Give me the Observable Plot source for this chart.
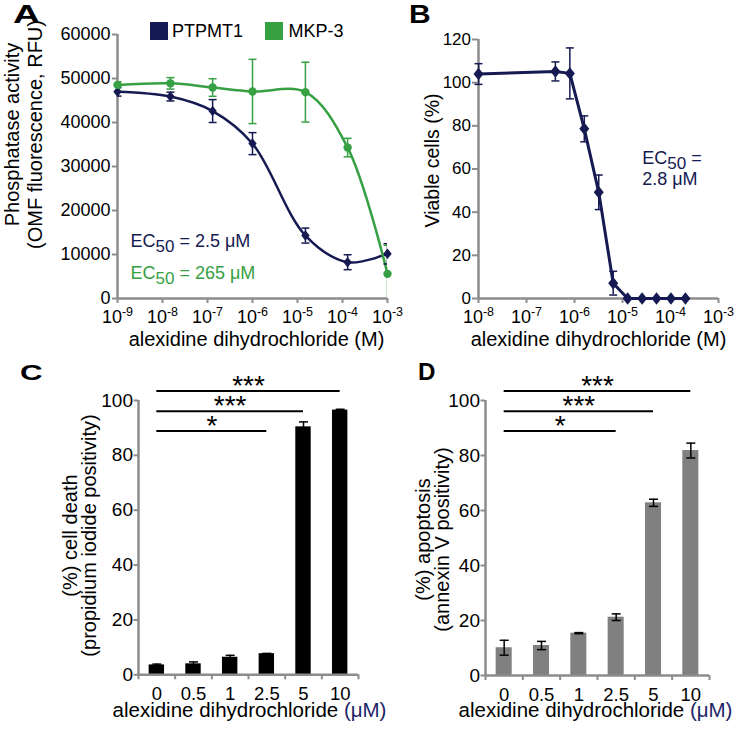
<!DOCTYPE html>
<html>
<head>
<meta charset="utf-8">
<script src="https://cdn.jsdelivr.net/npm/d3@7"></script>
<script src="https://cdn.jsdelivr.net/npm/@observablehq/plot@0.6"></script>
<style>
  html, body { margin: 0; padding: 0; background: #fff; }
  #fig { position: relative; width: 747px; height: 730px; overflow: hidden; font-family: "Liberation Sans", Arial, Helvetica, sans-serif; }
  #fig svg { position: absolute; left: 0; top: 0; overflow: visible; background: transparent; }
  .letter { position: absolute; font-weight: bold; line-height: 1; transform-origin: left top; color: #000; }
  .sw { position: absolute; width: 18px; height: 18px; }
  .lt { position: absolute; font-size: 18px; line-height: 18px; color: #000; white-space: nowrap; }
</style>
</head>
<body>
<div id="fig"></div>
<script>
// ---------- Panel A data: phosphatase activity ----------
const seriesA = ["PTPMT1", "MKP-3"];
const concA = [1e-9, 1.5e-8, 1.3e-7, 1e-6, 1.5e-5, 1.3e-4, 1e-3];
const ptpmt1 = [47000, 45900, 42600, 35200, 14300, 8250, 10150];
const ptpmt1Err = [1000, 1000, 2600, 2500, 1700, 1700, 2300];
const mkp3 = [48550, 48900, 47950, 47050, 46900, 34300, 5600];
const mkp3Err = [700, 1300, 2000, 7300, 6800, 2100, 6500];
const ticksAy = [0, 10000, 20000, 30000, 40000, 50000, 60000];
const ticksAx = [1e-9, 1e-8, 1e-7, 1e-6, 1e-5, 1e-4, 1e-3];

// ---------- Panel B data: viable cells ----------
const concB = [1e-8, 4e-7, 8e-7, 1.6e-6, 3.2e-6, 6.4e-6, 1.28e-5, 2.56e-5, 5.12e-5, 1.024e-4, 2.048e-4];
const viable = [104, 105.2, 104.3, 78.6, 49.2, 7.1, 0, 0, 0, 0, 0];
const viableErr = [4.8, 4.4, 11.8, 6, 8, 5.5, 0, 0, 0, 0, 0];
const ticksBy = [0, 20, 40, 60, 80, 100, 120];
const ticksBx = [1e-8, 1e-7, 1e-6, 1e-5, 1e-4, 1e-3];

// ---------- Panels C, D data ----------
const doses = ["0", "0.5", "1", "2.5", "5", "10"];
const cellDeath = [3.6, 4.0, 6.4, 7.7, 90.4, 96.5];
const cellDeathErr = [0.3, 0.7, 0.7, 0.1, 1.8, 0.3];
const apoptosis = [10.1, 10.9, 15.4, 21.2, 62.8, 81.8];
const apoptosisErr = [2.7, 1.5, 0.2, 1.2, 1.3, 2.7];
const ticksCD = [0, 20, 40, 60, 80, 100];
const sigFrom = ["0", "0", "0"];
const sigTo = ["2.5", "5", "10"];
const sigLabels = ["*", "***", "***"];
const sigLevels = [88.9, 96.1, 103.5];

// ---------- style ----------
const W = 747, H = 730;
const font = '"Liberation Sans", Arial, Helvetica, sans-serif';
const navy = "#161a52";
const green = "#36a043";
const axisGray = "#8c8c8c";
const barGray = "#808080";

const capSymbol = {draw(ctx, size) { const r = Math.sqrt(size / Math.PI); ctx.moveTo(-r, 0); ctx.lineTo(r, 0); }};
const diamondSymbol = {draw(ctx, size) { const r = Math.sqrt(size / Math.PI), h = r * 1.25; ctx.moveTo(0, -h); ctx.lineTo(r, 0); ctx.lineTo(0, h); ctx.lineTo(-r, 0); ctx.closePath(); }};
const expFmt = d => "10^" + Math.round(Math.log10(d));

// anchor a text at a pixel spot relative to the frame's top-left corner
function at(m, px, py, anchor = "middle") {
  return {frameAnchor: "top-left", dx: px - m.left, dy: py - m.top, textAnchor: anchor, lineAnchor: "middle"};
}
function margins(m) { return {width: W, height: H, marginTop: m.top, marginRight: m.right, marginBottom: m.bottom, marginLeft: m.left,
  style: {fontFamily: font, background: "transparent", overflow: "visible"}}; }

const fig = document.getElementById("fig");
const NS = "http://www.w3.org/2000/svg";
function tspan(txt, attrs) { const s = document.createElementNS(NS, "tspan"); for (const k in attrs) s.setAttribute(k, attrs[k]); s.textContent = txt; return s; }
function fixTexts(svg) {
  svg.querySelectorAll("text").forEach(t => {
    if (t.querySelector("tspan")) return;
    const s = t.textContent;
    let m = s.match(/^10\^(-?\d+)$/);
    if (m) { t.textContent = "10"; t.appendChild(tspan(m[1], {dy: "-7", "font-size": "12.5"})); return; }
    if (s.startsWith("EC50")) {
      t.textContent = "EC";
      t.appendChild(tspan("50", {dy: "5", "font-size": "17"}));
      t.appendChild(tspan(s.slice(4), {dy: "-5"}));
      return;
    }
    if (s.endsWith("(μM)")) {
      t.textContent = s.slice(0, -4);
      t.appendChild(tspan("(μM)", {fill: "#1d2466"}));
    }
  });
}
function place(svg) { fixTexts(svg); fig.appendChild(svg); }

// ---------- Panel A ----------
const tableA = concA.flatMap((c, i) => [
  {conc: c, v: ptpmt1[i], e: ptpmt1Err[i], series: seriesA[0]},
  {conc: c, v: mkp3[i], e: mkp3Err[i], series: seriesA[1]}
]);
const mA = {top: 34, right: W - 387, bottom: H - 298, left: 117};
place(Plot.plot({
  ...margins(mA),
  x: {type: "log", domain: [ticksAx[0], ticksAx[ticksAx.length - 1]]},
  y: {domain: [0, 60000]},
  color: {domain: seriesA, range: [navy, green]},
  marks: [
    Plot.axisY(ticksAy, {tickSize: 5, tickPadding: 2, fontSize: 18, stroke: axisGray, strokeWidth: 2, fill: "black", tickFormat: d => String(d), label: null}),
    Plot.axisX(ticksAx, {tickSize: 5, tickPadding: 7, fontSize: 18, stroke: axisGray, strokeWidth: 2, fill: "black", tickFormat: expFmt, label: null}),
    Plot.ruleY([0], {stroke: axisGray, strokeWidth: 2.5}),
    Plot.ruleX([ticksAx[0]], {stroke: axisGray, strokeWidth: 2.5}),
    Plot.line(tableA, {x: "conc", y: "v", z: "series", stroke: "series", curve: "catmull-rom", strokeWidth: 2.5}),
    Plot.ruleX(tableA, {x: "conc", y1: d => d.v - d.e, y2: d => d.v + d.e, stroke: "series", strokeWidth: 1.5, clip: true}),
    Plot.dot(tableA, {x: "conc", y: d => d.v + d.e, symbol: capSymbol, r: 4, fill: "none", stroke: "series", strokeWidth: 1.5, clip: true}),
    Plot.dot(tableA, {x: "conc", y: d => d.v - d.e, symbol: capSymbol, r: 4, fill: "none", stroke: "series", strokeWidth: 1.5, clip: true}),
    Plot.dot(tableA.filter(d => d.series === seriesA[0]), {x: "conc", y: "v", symbol: diamondSymbol, r: 4.2, fill: "series", stroke: "none"}),
    Plot.dot(tableA.filter(d => d.series === seriesA[1]), {x: "conc", y: "v", r: 4.2, fill: "series", stroke: "none"}),
    Plot.text(["Phosphatase activity\n(OMF fluorescence, RFU)"], {text: d => d, ...at(mA, 23, 134), rotate: -90, fontSize: 20, lineHeight: 1.15, fill: "black"}),
    Plot.text(["alexidine dihydrochloride (M)"], {text: d => d, ...at(mA, 256, 338.6), fontSize: 20, fill: "black"}),
    Plot.text(["EC50 = 2.5 μM"], {text: d => d, ...at(mA, 130, 240.3, "start"), fontSize: 18, fill: navy}),
    Plot.text(["EC50 = 265 μM"], {text: d => d, ...at(mA, 130, 272.6, "start"), fontSize: 18, fill: green})
  ]
}));

// ---------- Panel B ----------
const tableB = concB.map((c, i) => ({conc: c, v: viable[i], e: viableErr[i]}));
const mB = {top: 39, right: W - 718, bottom: H - 298, left: 478};
place(Plot.plot({
  ...margins(mB),
  x: {type: "log", domain: [ticksBx[0], ticksBx[ticksBx.length - 1]]},
  y: {domain: [0, 120]},
  marks: [
    Plot.axisY(ticksBy, {tickSize: 6, tickPadding: 1.5, fontSize: 17, stroke: axisGray, strokeWidth: 2, fill: "black", tickFormat: d => String(d), label: null}),
    Plot.axisX(ticksBx, {tickSize: 5, tickPadding: 7, fontSize: 18, stroke: axisGray, strokeWidth: 2, fill: "black", tickFormat: expFmt, label: null}),
    Plot.ruleY([0], {stroke: axisGray, strokeWidth: 2.5}),
    Plot.ruleX([ticksBx[0]], {stroke: axisGray, strokeWidth: 2.5}),
    Plot.line(tableB, {x: "conc", y: "v", stroke: navy, strokeWidth: 3}),
    Plot.ruleX(tableB.filter(d => d.e > 0), {x: "conc", y1: d => d.v - d.e, y2: d => d.v + d.e, stroke: navy, strokeWidth: 1.5, clip: true}),
    Plot.dot(tableB.filter(d => d.e > 0), {x: "conc", y: d => d.v + d.e, symbol: capSymbol, r: 4, fill: "none", stroke: navy, strokeWidth: 1.5}),
    Plot.dot(tableB.filter(d => d.e > 0 && d.v - d.e > 0), {x: "conc", y: d => d.v - d.e, symbol: capSymbol, r: 4, fill: "none", stroke: navy, strokeWidth: 1.5}),
    Plot.dot(tableB, {x: "conc", y: "v", symbol: diamondSymbol, r: 5, fill: navy, stroke: "none"}),
    Plot.text(["Viable cells (%)"], {text: d => d, ...at(mB, 432, 160), rotate: -90, fontSize: 19.5, fill: "black"}),
    Plot.text(["alexidine dihydrochloride (M)"], {text: d => d, ...at(mB, 598, 338.6), fontSize: 20, fill: "black"}),
    Plot.text(["EC50 ="], {text: d => d, ...at(mB, 641.7, 157.6, "start"), fontSize: 18, fill: navy}),
    Plot.text(["2.8 μM"], {text: d => d, ...at(mB, 641.7, 178.9, "start"), fontSize: 18, fill: navy})
  ]
}));

// ---------- Panels C & D (bar charts) ----------
const idx = d3.range(doses.length);
const edges = d3.range(doses.length + 1).map(k => k - 0.5);
const sigTable = sigLabels.map((s, k) => ({from: doses.indexOf(sigFrom[k]), to: doses.indexOf(sigTo[k]), label: s, level: sigLevels[k]}));

function barPanel(m, values, errors, fill, halfWidth, labelLines, labelPos, xLabelX) {
  const table = idx.map(i => ({i, v: values[i], e: errors[i]}));
  return Plot.plot({
    ...margins(m),
    x: {domain: [-0.5, doses.length - 0.5]},
    y: {domain: [0, 100]},
    marks: [
      Plot.rectY(table, {x1: d => d.i - halfWidth, x2: d => d.i + halfWidth, y1: 0, y2: "v", fill}),
      Plot.ruleX(table, {x: "i", y1: d => d.v - d.e, y2: d => d.v + d.e, stroke: "black", strokeWidth: 1.5}),
      Plot.dot(table, {x: "i", y: d => d.v + d.e, symbol: capSymbol, r: 4.5, fill: "none", stroke: "black", strokeWidth: 1.5}),
      Plot.dot(table, {x: "i", y: d => d.v - d.e, symbol: capSymbol, r: 4.5, fill: "none", stroke: "black", strokeWidth: 1.5}),
      Plot.axisY(ticksCD, {tickSize: 4.5, tickPadding: 1, fontSize: 19, stroke: axisGray, strokeWidth: 2, fill: "black", tickFormat: d => String(d), label: null}),
      Plot.axisX(edges, {tickSize: 5, fontSize: 1, stroke: axisGray, strokeWidth: 2, tickFormat: () => "", label: null}),
      Plot.axisX(idx, {tickSize: 0, tickPadding: 12, fontSize: 18.5, fill: "black", tickFormat: i => doses[i], label: null}),
      Plot.ruleY([0], {stroke: axisGray, strokeWidth: 2.5}),
      Plot.ruleX([-0.5], {stroke: axisGray, strokeWidth: 2.5}),
      Plot.ruleY(sigTable, {y: "level", x1: "from", x2: "to", stroke: "black", strokeWidth: 2}),
      Plot.text(sigTable, {x: d => (d.from + d.to) / 2, y: "level", text: "label", fontSize: 28, dy: -5, fill: "black"}),
      Plot.text([labelLines], {text: d => d, ...at(m, labelPos[0], labelPos[1]), rotate: -90, fontSize: 20, lineHeight: 0.95, fill: "black"}),
      Plot.text(["alexidine dihydrochloride (μM)"], {text: d => d, ...at(m, xLabelX, 709.5), fontSize: 20.5, fill: "black"})
    ]
  });
}

place(barPanel({top: 400, right: W - 358, bottom: H - 674.3, left: 138}, cellDeath, cellDeathErr, "black", 0.21,
  "(%) cell death\n(propidium iodide positivity)", [80, 535], 249));
place(barPanel({top: 400, right: W - 709, bottom: H - 675, left: 485}, apoptosis, apoptosisErr, barGray, 0.215,
  "(%) apoptosis\n(annexin V positivity)", [433, 539], 595));

// ---------- Legend (panel A) ----------
const legendColors = [navy, green];
const legendX = [[150, 172], [265, 288.5]];
seriesA.forEach((s, k) => {
  const sw = document.createElement("div");
  sw.className = "sw"; sw.style.left = legendX[k][0] + "px"; sw.style.top = "21.5px"; sw.style.background = legendColors[k];
  fig.appendChild(sw);
  const t = document.createElement("div");
  t.className = "lt"; t.style.left = legendX[k][1] + "px"; t.style.top = "22px"; t.textContent = s;
  fig.appendChild(t);
});

// ---------- Panel letters ----------
const letters = [
  {t: "A", x: 12.5, y: 1.7, fs: 25, sx: 1.5},
  {t: "B", x: 409, y: 1.7, fs: 25, sx: 1.2},
  {t: "C", x: 19.5, y: 362, fs: 22, sx: 1.42},
  {t: "D", x: 418, y: 361, fs: 23, sx: 1.05}
];
letters.forEach(L => {
  const d = document.createElement("div");
  d.className = "letter"; d.textContent = L.t;
  d.style.left = L.x + "px"; d.style.top = L.y + "px"; d.style.fontSize = L.fs + "px";
  d.style.transform = `scaleX(${L.sx})`;
  fig.appendChild(d);
});
</script>
</body>
</html>
